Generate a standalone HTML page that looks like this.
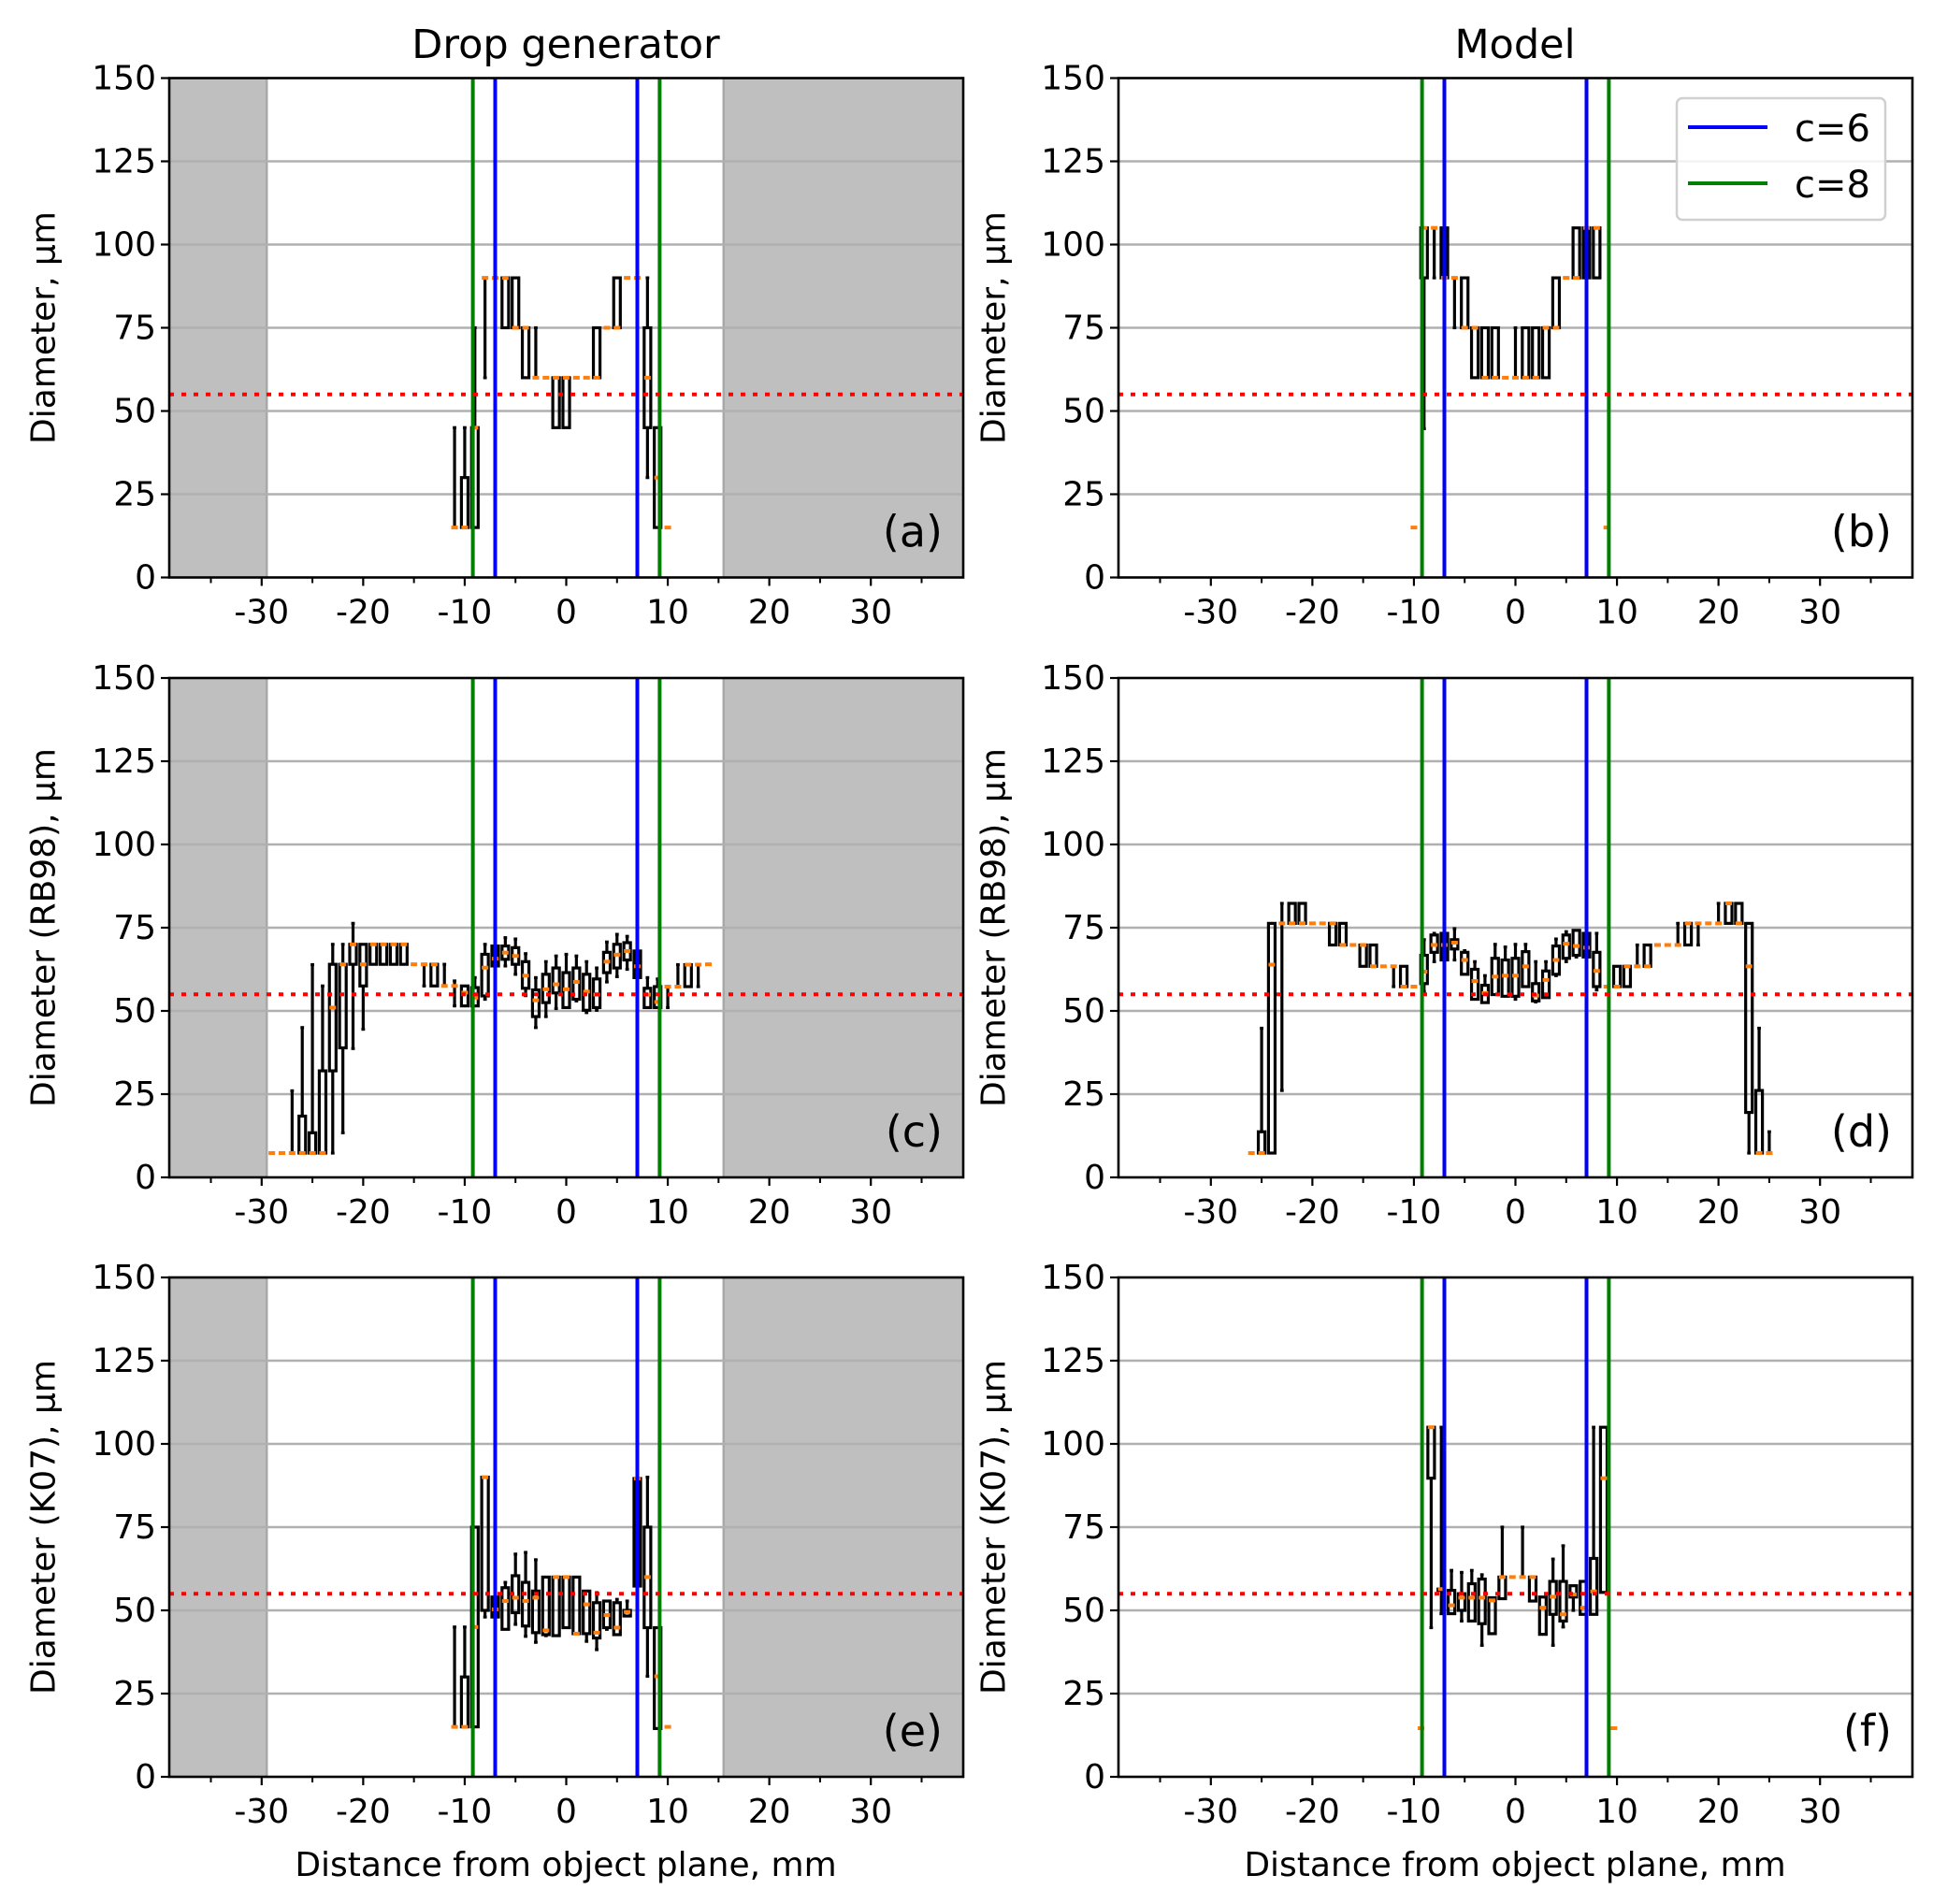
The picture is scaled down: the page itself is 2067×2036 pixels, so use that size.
<!DOCTYPE html>
<html><head><meta charset="utf-8"><style>
html,body{margin:0;padding:0;background:#fff}
svg{display:block;font-family:"DejaVu Sans","Liberation Sans",sans-serif}
</style></head><body>
<svg id="chart" width="2067" height="2036" viewBox="0 0 2067 2036" xmlns="http://www.w3.org/2000/svg">
<text x="605" y="62" font-size="43" text-anchor="middle">Drop generator</text>
<text x="1620" y="62" font-size="43" text-anchor="middle">Model</text>
<text x="605" y="2006" font-size="36" text-anchor="middle">Distance from object plane, mm</text>
<text x="1620" y="2006" font-size="36" text-anchor="middle">Distance from object plane, mm</text>
</svg>
<script>
// ---- data ----
const yTicks = [0, 25, 50, 75, 100, 125, 150];
const xTickLabels = [-30, -20, -10, 0, 10, 20, 30];
const xMinorTicks = [-35, -25, -15, -5, 5, 15, 25, 35];
const gridValues = [25, 50, 75, 100, 125];
const refDiameter = 55;
const c6Lines = [-7, 7];
const c8Lines = [-9.2, 9.2];
const greySpans = [[-39.1, -29.5], [15.5, 39.1]];

const posA = [-11,-10,-9,-8,-7,-6,-5,-4,-3,-2,-1,0,1,2,3,4,5,6,7,8,9,10];
const statsA = [[15,15,15,15,45],[15,15,15,30,45],[15,15,45,45,75],[60,90,90,90,90],[90,90,90,90,90],[75,75,90,90,90],[75,75,75,90,90],[60,60,75,75,75],[60,60,60,60,75],[60,60,60,60,60],[45,45,60,60,60],[45,45,60,60,60],[60,60,60,60,60],[60,60,60,60,60],[60,60,60,75,75],[75,75,75,75,75],[75,75,75,90,90],[90,90,90,90,90],[75,90,90,90,105],[30,45,60,75,90],[15,15,30,45,45],[15,15,15,15,15]];

const posB = [-10,-9,-8,-7,-6,-5,-4,-3,-2,-1,0,1,2,3,4,5,6,7,8,9];
const statsB = [[15,15,15,15,15],[44.7,90,105,105,105],[90,105,105,105,105],[90,90,90,105,105],[75,90,90,90,90],[75,75,75,90,90],[60,60,75,75,75],[60,60,60,75,75],[60,60,60,75,75],[60,60,60,60,60],[60,60,60,60,75],[60,60,60,75,75],[60,60,60,75,75],[60,60,75,75,75],[75,75,75,90,90],[90,90,90,90,90],[90,90,90,105,105],[90,90,105,105,105],[90,90,105,105,105],[15,15,15,15,15]];

const posC = [-29,-28,-27,-26,-25,-24,-23,-22,-21,-20,-19,-18,-17,-16,-15,-14,-13,-12,-11,-10,-9,-8,-7,-6,-5,-4,-3,-2,-1,0,1,2,3,4,5,6,7,8,9,10,11,12,13,14];
const statsC = [[7.3,7.3,7.3,7.3,7.3],[7.3,7.3,7.3,7.3,7.3],[7.3,7.3,7.3,7.3,26],[7.3,7.3,7.3,18.4,45],[7.3,7.3,7.3,13.4,63.9],[7.3,7.3,7.3,32,57.5],[7.3,32,51,64,70],[13.4,38.9,64,64,70],[38.7,64,70,70,76.3],[44.5,57.5,64,70,70],[64,64,70,70,70],[64,64,70,70,70],[64,64,70,70,70],[64,64,70,70,70],[64,64,64,64,64],[57.5,64,64,64,64],[57.5,57.5,64,64,64],[57.5,57.5,57.5,57.5,64],[51.5,57.5,57.5,57.5,59],[51.5,51.5,55.5,57.5,57.5],[51.5,51.5,54,57,60],[53.5,54.5,63,67,70],[61.5,63.5,65.7,69.5,72],[63.5,65.5,67.5,69.5,72],[61,64,66.5,69,71.6],[54.6,56.8,60.6,64.8,67.2],[45,48.3,53.2,56.3,60],[48.3,52.5,56.5,61,64.8],[50.7,55.4,58,62.9,66.5],[51,51,56.5,61.5,67],[53,53.5,58.7,62.9,66.5],[49.5,50.2,55.8,61,64.8],[50.2,51,54.9,59.6,62.9],[58.7,61.5,64.8,67.6,70.7],[60.3,62.9,66.9,70,73],[62.5,65.3,68,70.5,72.4],[58.2,60,63.4,68,70.9],[51,51,54.9,56.8,60],[51,51,52.7,57.3,59.6],[51,57.3,57.3,57.3,57.3],[57.3,57.3,57.3,57.3,63.9],[57.3,57.3,63.9,63.9,63.9],[57.3,63.9,63.9,63.9,63.9],[64,64,64,64,64]];

const posD = [-26,-25,-24,-23,-22,-21,-20,-19,-18,-17,-16,-15,-14,-13,-12,-11,-10,-9,-8,-7,-6,-5,-4,-3,-2,-1,0,1,2,3,4,5,6,7,8,9,10,11,12,13,14,15,16,17,18,19,20,21,22,23,24,25];
const statsD = [[7.3,7.3,7.3,7.3,7.3],[7.3,7.3,7.3,13.7,44.8],[7.3,7.3,63.9,76.3,76.3],[26.1,76.3,76.3,76.3,82.3],[76.3,76.3,76.3,82.3,82.3],[76.3,76.3,76.3,82.3,82.3],[76.3,76.3,76.3,76.3,76.3],[76.3,76.3,76.3,76.3,76.3],[69.8,69.8,76.3,76.3,76.3],[69.8,69.8,69.8,76.3,76.3],[69.8,69.8,69.8,69.8,69.8],[63.4,63.4,69.8,69.8,69.8],[63.4,63.4,63.4,69.8,69.8],[63.4,63.4,63.4,63.4,63.4],[57.3,63.4,63.4,63.4,63.4],[57.3,57.3,57.3,63.4,63.4],[57.3,57.3,57.3,57.3,57.3],[55.8,58.2,61.8,66.7,71.4],[64.8,67.6,69.8,72.8,73.3],[65.3,65.3,69.8,73.3,73.8],[65.3,68.6,70.5,71.4,74.7],[61,61,65.3,67.6,68.1],[53.5,53.5,59,62.5,64.8],[52.5,52.5,55.4,57.7,60.6],[54.9,54.9,60.3,65.8,70],[54.4,54.4,60.6,65.3,69.2],[53.5,54.4,60.6,65.8,70],[57.3,57.3,63.4,67.8,70],[52.7,53,54.6,58.2,64.8],[54,54,59.3,62,64.8],[60.6,61,65.3,69.5,71.6],[64.8,65.8,70.2,72.8,73.8],[66.2,66.7,69.5,74.2,74.2],[66.2,66.2,69,73.3,73.8],[56.3,57.3,62,67.6,73.3],[57.3,57.3,57.3,57.3,57.3],[57.3,57.3,57.3,63.4,63.4],[57.3,57.3,63.4,63.4,63.4],[63.4,63.4,63.4,63.4,69.8],[63.4,63.4,63.4,69.8,69.8],[69.8,69.8,69.8,69.8,69.8],[69.8,69.8,69.8,69.8,69.8],[69.8,69.8,69.8,69.8,76.3],[69.8,69.8,76.3,76.3,76.3],[69.8,76.3,76.3,76.3,76.3],[76.3,76.3,76.3,76.3,76.3],[76.3,76.3,76.3,76.3,82.3],[76.3,76.3,82.3,82.3,82.3],[76.3,76.3,76.3,82.3,82.3],[7.3,19.5,63.4,76.3,76.3],[7.3,7.3,7.3,26.1,44.8],[7.3,7.3,7.3,7.3,13.7]];

const posE = [-11,-10,-9,-8,-7,-6,-5,-4,-3,-2,-1,0,1,2,3,4,5,6,7,8,9,10];
const statsE = [[15,15,15,15,45],[15,15,15,30,45],[15,15,45,75,75],[48,50,90,90,90],[44,48,50.3,54,54],[44.3,44.3,52.8,56.8,58.4],[45.8,49.3,53.8,60.4,66.9],[42.2,45.3,52.8,58.4,67.4],[40.4,43.3,53.8,55.8,65.2],[42.4,42.7,44,60,60],[42.4,42.4,60,60,60],[44.8,44.8,60,60,60],[43,43,43,60,60],[40.7,43,51.8,55.8,55.8],[38.2,41.7,43.3,52.3,55.3],[44.3,44.8,48.6,52.8,52.8],[42.7,42.7,44.8,52.3,53.3],[48.3,48.3,49.5,50,52.8],[48.3,57.3,89.6,89.6,105],[30.2,44.8,60,75,90],[14.5,14.5,30.2,44.8,44.8],[15,15,15,15,15]];

const posF = [-9.3,-8.3,-7.3,-6.3,-5.3,-4.3,-3.3,-2.3,-1.3,-0.3,0.7,1.7,2.7,3.7,4.7,5.7,6.7,7.7,8.7,9.7];
const statsF = [[14.6,14.6,14.6,14.6,14.6],[44.8,89.7,105,105,105],[49,56,56.4,56.4,105],[49,49,51.5,56,62],[46.8,50,53.8,55,61.4],[46.8,46.8,53.8,58,62],[39.5,46,53.8,59.4,60.7],[43,43,53,53.8,53.8],[53.5,53.5,60,60,75],[60,60,60,60,60],[60,60,60,60,75],[52.8,52.8,60,60,60],[42.8,42.8,50.8,54,54],[39.5,48.8,54.1,58.7,65.4],[45,46.8,48.8,58.7,69.4],[50,54,54.8,57.4,57.4],[48.8,48.8,50.8,58.7,58.7],[48.8,48.8,55.7,65.6,105],[55.4,55.4,89.7,105,105],[14.6,14.6,14.6,14.6,14.6]];

// ---- layout ----
const NS = "http://www.w3.org/2000/svg";
const svg = document.getElementById("chart");
const XMIN = -39.1, XMAX = 39.1, YMIN = 0, YMAX = 150;
const colL = [181, 1196];
const colW = 849;
const rowT = [83.5, 725, 1366];
const rowH = 534;

function mk(tag, attrs, parent) {
  const e = document.createElementNS(NS, tag);
  for (const k in attrs) e.setAttribute(k, attrs[k]);
  (parent || svg).appendChild(e);
  return e;
}

const panels = [
  {id:"a", col:0, row:0, pos:posA, stats:statsA, grey:true, ylabel:"Diameter, µm"},
  {id:"b", col:1, row:0, pos:posB, stats:statsB, grey:false, ylabel:"Diameter, µm", legend:true},
  {id:"c", col:0, row:1, pos:posC, stats:statsC, grey:true, ylabel:"Diameter (RB98), µm"},
  {id:"d", col:1, row:1, pos:posD, stats:statsD, grey:false, ylabel:"Diameter (RB98), µm"},
  {id:"e", col:0, row:2, pos:posE, stats:statsE, grey:true, ylabel:"Diameter (K07), µm"},
  {id:"f", col:1, row:2, pos:posF, stats:statsF, grey:false, ylabel:"Diameter (K07), µm"}
];

panels.forEach(p => {
  const L = colL[p.col], T = rowT[p.row], W = colW, H = rowH;
  const X = v => L + (v - XMIN) / (XMAX - XMIN) * W;
  const Y = v => T + H - (v - YMIN) / (YMAX - YMIN) * H;
  const g = mk("g", {});
  
  

  if (p.grey) {
    greySpans.forEach(s => {
      const r = mk("rect", {x:X(s[0]), y:T, width:X(s[1])-X(s[0]), height:H, fill:"#bfbfbf"}, g);
      
      
    });
    greySpans.forEach(s => {
      const inner = s[0] < 0 ? s[1] : s[0];
      const l = mk("line", {x1:X(inner), x2:X(inner), y1:T, y2:T+H, stroke:"#a8a8a8", "stroke-width":2.5}, g);
      
      
    });
  }
  gridValues.forEach(v => {
    const l = mk("line", {x1:L, x2:L+W, y1:Y(v), y2:Y(v), stroke:"#b0b0b0", "stroke-width":2.5}, g);
    
    
  });

  // boxplots
  const bw = 0.65 * W / (XMAX - XMIN);
  const cw = 0.35 * W / (XMAX - XMIN);
  p.pos.forEach((x, i) => {
    const s = p.stats[i];
    const cx = X(x);
    const bg = mk("g", {}, g);
    
    
    const st = {stroke:"#000", "stroke-width":3.2, fill:"none"};
    if (s[0] < s[1]) {
      mk("line", Object.assign({x1:cx, x2:cx, y1:Y(s[0]), y2:Y(s[1])}, st), bg);
      mk("line", Object.assign({x1:cx-cw/2, x2:cx+cw/2, y1:Y(s[0]), y2:Y(s[0])}, st), bg);
    }
    if (s[4] > s[3]) {
      mk("line", Object.assign({x1:cx, x2:cx, y1:Y(s[3]), y2:Y(s[4])}, st), bg);
      mk("line", Object.assign({x1:cx-cw/2, x2:cx+cw/2, y1:Y(s[4]), y2:Y(s[4])}, st), bg);
    }
    if (s[3] > s[1]) {
      mk("rect", Object.assign({x:cx-bw/2, y:Y(s[3]), width:bw, height:Y(s[1])-Y(s[3])}, st), bg);
    }
    mk("line", {x1:cx-bw/2, x2:cx+bw/2, y1:Y(s[2]), y2:Y(s[2]), stroke:"#ff7f0e", "stroke-width":4}, bg);
  });

  // c lines
  c8Lines.forEach(v => {
    const l = mk("line", {x1:X(v), x2:X(v), y1:T, y2:T+H, stroke:"#008000", "stroke-width":4}, g);
    
    
  });
  c6Lines.forEach(v => {
    const l = mk("line", {x1:X(v), x2:X(v), y1:T, y2:T+H, stroke:"#0000ff", "stroke-width":4}, g);
    
    
  });
  const rl = mk("line", {x1:L, x2:L+W, y1:Y(refDiameter), y2:Y(refDiameter), stroke:"#ff0000", "stroke-width":4, "stroke-dasharray":"5 8"}, g);
  
  

  // frame
  const fr = mk("rect", {x:L, y:T, width:W, height:H, fill:"none", stroke:"#000", "stroke-width":2.6}, g);
  
  

  // y ticks
  yTicks.forEach(v => {
    mk("line", {x1:L-9, x2:L, y1:Y(v), y2:Y(v), stroke:"#000", "stroke-width":2.2}, g);
    const t = mk("text", {x:L-14, y:Y(v)+12, "font-size":36, "text-anchor":"end"}, g);
    t.textContent = v;
    
    
  });
  // x ticks
  xTickLabels.forEach(v => {
    mk("line", {x1:X(v), x2:X(v), y1:T+H, y2:T+H+9, stroke:"#000", "stroke-width":2.2}, g);
    const t = mk("text", {x:X(v), y:T+H+49, "font-size":36, "text-anchor":"middle"}, g);
    t.textContent = v;
    
    
  });
  xMinorTicks.forEach(v => {
    mk("line", {x1:X(v), x2:X(v), y1:T+H, y2:T+H+6, stroke:"#000", "stroke-width":2}, g);
  });
  // y label
  const yx = p.col === 0 ? 46 : 1062;
  const yl = mk("text", {x:yx, y:T+H/2, "font-size":36, "text-anchor":"middle", transform:`rotate(-90 ${yx} ${T+H/2})`, dy:"0.35em"}, g);
  yl.textContent = p.ylabel;
  
  
  // panel letter
  const pl = mk("text", {x:L+W-22, y:T+H-33, "font-size":46, "text-anchor":"end"}, g);
  pl.textContent = "(" + p.id + ")";
  
  

  if (p.legend) {
    const lg = mk("g", {}, g);
    
    
    mk("rect", {x:1793, y:105, width:223, height:130, rx:6, fill:"#fff", "fill-opacity":0.85, stroke:"#d0d0d0", "stroke-width":2.5}, lg);
    [["c=6","#0000ff",136],["c=8","#008000",196]].forEach(e => {
      const eg = mk("g", {}, lg);
      
      
      mk("line", {x1:1805, x2:1890, y1:e[2], y2:e[2], stroke:e[1], "stroke-width":4}, eg);
      const t = mk("text", {x:2000, y:e[2]+15, "font-size":40, "text-anchor":"end"}, eg);
      t.textContent = e[0];
    });
  }
});
</script>
</body></html>
